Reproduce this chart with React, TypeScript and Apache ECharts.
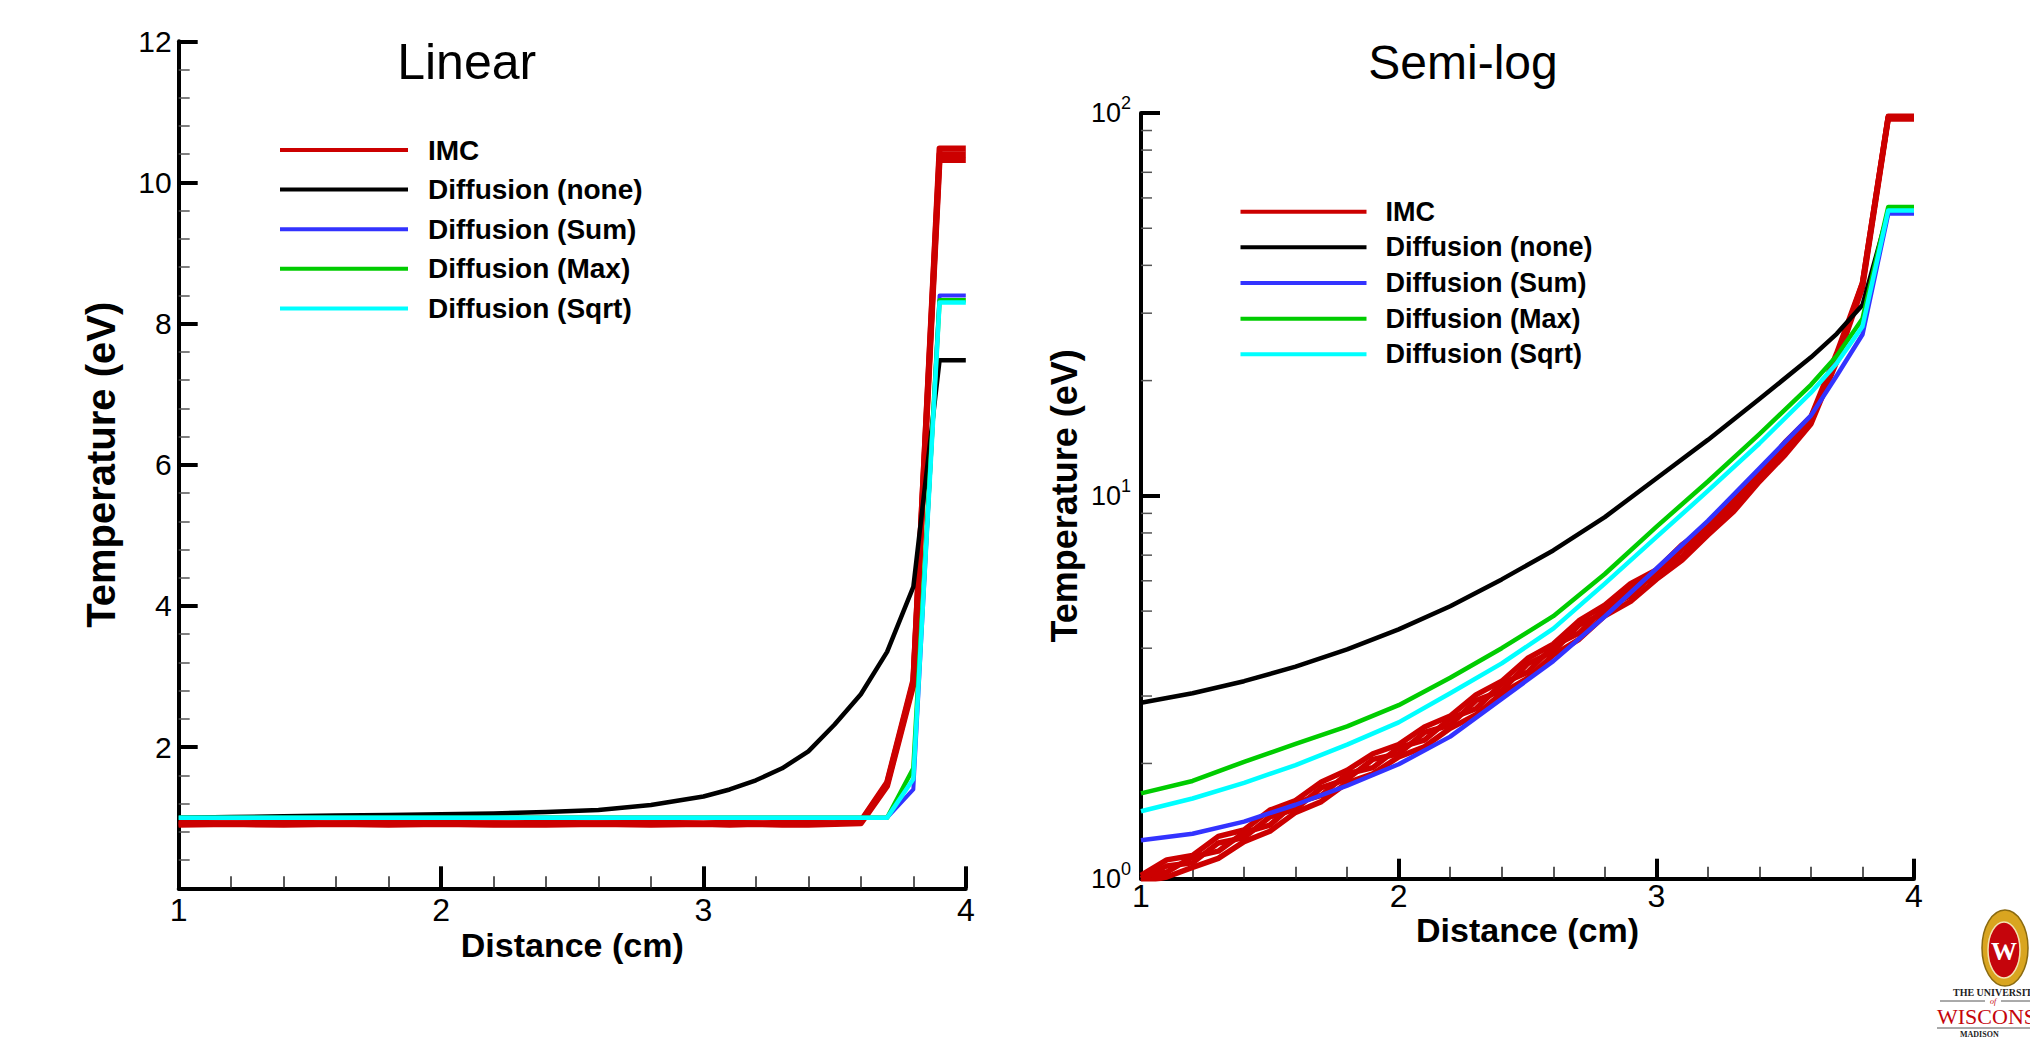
import React, { useEffect, useRef } from 'react';
import * as echarts from 'echarts';

const FONT = "'Liberation Sans', Arial, Helvetica, sans-serif";
const SERIF = "'Liberation Serif', 'DejaVu Serif', serif";

const SERIES_NAMES = ['IMC', 'Diffusion (none)', 'Diffusion (Sum)', 'Diffusion (Max)', 'Diffusion (Sqrt)'];
const COLORS = ['#cc0000', '#000000', '#3333ff', '#00cc00', '#00ffff'];

// ---------- Linear panel ----------
const LIN_X = [1.0, 1.2, 1.4, 1.6, 1.8, 2.0, 2.2, 2.4, 2.6, 2.8, 3.0, 3.1, 3.2, 3.3, 3.4, 3.5, 3.6, 3.7, 3.8, 3.9, 4.0];
const LIN_IMC_A = [0.90, 0.91, 0.90, 0.91, 0.90, 0.91, 0.90, 0.90, 0.91, 0.90, 0.91, 0.90, 0.91, 0.90, 0.90, 0.91, 0.92, 1.45, 2.88, 10.32, 10.32];
const LIN_IMC_B = [0.93, 0.92, 0.93, 0.92, 0.93, 0.93, 0.92, 0.93, 0.92, 0.93, 0.92, 0.93, 0.92, 0.93, 0.93, 0.92, 0.95, 1.50, 2.95, 10.40, 10.40];
const LIN_IMC_C = [0.91, 0.92, 0.91, 0.92, 0.92, 0.91, 0.92, 0.91, 0.92, 0.92, 0.91, 0.92, 0.92, 0.91, 0.92, 0.92, 0.94, 1.48, 2.92, 10.48, 10.48];
const LIN_NONE = [1.00, 1.01, 1.02, 1.03, 1.04, 1.05, 1.06, 1.08, 1.11, 1.18, 1.30, 1.40, 1.53, 1.70, 1.94, 2.32, 2.75, 3.35, 4.27, 7.48, 7.48];
const LIN_SUM = [1.0, 1.0, 1.0, 1.0, 1.0, 1.0, 1.0, 1.0, 1.0, 1.0, 1.0, 1.0, 1.0, 1.0, 1.0, 1.0, 1.0, 1.0, 1.40, 8.40, 8.40];
const LIN_MAX = [1.0, 1.0, 1.0, 1.0, 1.0, 1.0, 1.0, 1.0, 1.0, 1.0, 1.0, 1.0, 1.0, 1.0, 1.0, 1.0, 1.0, 1.0, 1.70, 8.33, 8.33];
const LIN_SQRT = [1.0, 1.0, 1.0, 1.0, 1.0, 1.0, 1.0, 1.0, 1.0, 1.0, 1.0, 1.0, 1.0, 1.0, 1.0, 1.0, 1.0, 1.0, 1.55, 8.30, 8.30];

// ---------- Semi-log panel ----------
const IMC_X = [1.0, 1.1, 1.2, 1.3, 1.4, 1.5, 1.6, 1.7, 1.8, 1.9, 2.0, 2.1, 2.2, 2.3, 2.4, 2.5, 2.6, 2.7, 2.8, 2.9, 3.0, 3.1, 3.2, 3.3, 3.4, 3.5, 3.6, 3.7, 3.8, 3.9, 4.0];
const LOG_IMC_A = [1.02, 1.12, 1.15, 1.29, 1.34, 1.51, 1.60, 1.79, 1.92, 2.12, 2.24, 2.49, 2.66, 3.02, 3.28, 3.76, 4.10, 4.72, 5.18, 5.90, 6.40, 7.45, 8.30, 9.95, 11.5, 13.8, 16.1, 23.6, 36.0, 98.0, 98.0];
const LOG_IMC_B = [0.98, 1.01, 1.07, 1.13, 1.25, 1.33, 1.49, 1.59, 1.78, 1.88, 2.08, 2.21, 2.47, 2.68, 3.05, 3.34, 3.84, 4.22, 4.86, 5.30, 6.05, 6.80, 7.90, 9.10, 10.9, 12.8, 15.4, 22.4, 35.0, 96.4, 96.4];
const LOG_IMC_C = [1.00, 1.08, 1.10, 1.24, 1.28, 1.45, 1.52, 1.73, 1.82, 2.05, 2.12, 2.41, 2.52, 2.92, 3.10, 3.64, 3.92, 4.60, 4.95, 5.75, 6.15, 7.28, 8.00, 9.70, 11.0, 13.5, 15.6, 23.2, 35.5, 97.2, 97.2];
const LOG_IMC_D = [1.01, 1.04, 1.14, 1.18, 1.32, 1.38, 1.58, 1.65, 1.88, 1.95, 2.20, 2.30, 2.62, 2.78, 3.23, 3.46, 4.05, 4.38, 5.10, 5.48, 6.35, 6.95, 8.25, 9.30, 11.4, 13.0, 16.0, 22.8, 36.0, 97.6, 97.6];
const LOG_X = [1.0, 1.2, 1.4, 1.6, 1.8, 2.0, 2.2, 2.4, 2.6, 2.8, 3.0, 3.2, 3.4, 3.6, 3.7, 3.8, 3.9, 4.0];
const LOG_NONE = [2.88, 3.05, 3.28, 3.58, 3.97, 4.48, 5.15, 6.05, 7.2, 8.8, 11.1, 14.0, 17.9, 23.0, 26.5, 31.5, 55.0, 55.0];
const LOG_SUM = [1.26, 1.31, 1.41, 1.56, 1.75, 1.99, 2.35, 2.95, 3.7, 4.84, 6.45, 8.6, 11.8, 16.2, 20.6, 26.4, 54.6, 54.6];
const LOG_MAX = [1.67, 1.80, 2.02, 2.25, 2.50, 2.84, 3.35, 4.0, 4.85, 6.25, 8.3, 10.9, 14.5, 19.5, 23.2, 29.0, 56.8, 56.8];
const LOG_SQRT = [1.50, 1.62, 1.78, 1.98, 2.24, 2.56, 3.05, 3.65, 4.5, 5.9, 7.8, 10.3, 13.7, 18.6, 22.2, 27.7, 55.6, 55.6];
const LOG_MINOR_TICKS = [2, 3, 4, 5, 6, 7, 8, 9, 20, 30, 40, 50, 60, 70, 80, 90];

function line(name: string, xs: number[], ys: number[], color: string, width: number, axis: number) {
  return {
    type: 'line',
    name,
    xAxisIndex: axis,
    yAxisIndex: axis,
    data: xs.map((x, i) => [x, ys[i]]),
    symbol: 'none',
    showSymbol: false,
    silent: true,
    lineStyle: { color, width, join: 'round' },
    itemStyle: { color },
  };
}

function xAxisCfg(gridIndex: number, majorLen: number, minorLen: number, margin: number, nameGap: number) {
  return {
    type: 'value',
    gridIndex,
    min: 1,
    max: 4,
    interval: 1,
    name: 'Distance (cm)',
    nameLocation: 'middle',
    nameGap,
    nameMoveOverlap: false,
    nameTextStyle: { fontFamily: FONT, fontWeight: 'bold', fontSize: 34, color: '#000' },
    axisLine: { show: true, onZero: false, lineStyle: { color: '#000', width: 4 } },
    axisTick: { show: true, inside: true, length: majorLen, lineStyle: { color: '#000', width: 4 } },
    minorTick: { show: true, splitNumber: 5, length: minorLen, lineStyle: { color: '#222', width: 1.5 } },
    axisLabel: { fontFamily: FONT, fontSize: 32, color: '#000', margin },
    splitLine: { show: false },
    minorSplitLine: { show: false },
  };
}

export default function App() {
  const ref = useRef<HTMLDivElement>(null);

  useEffect(() => {
    if (!ref.current) return;
    const chart = echarts.init(ref.current, undefined, { renderer: 'svg' });

    const legendCommon = {
      data: SERIES_NAMES,
      orient: 'vertical',
      icon: 'rect',
      padding: 0,
      selectedMode: false,
      itemStyle: { borderWidth: 0 },
    };

    const option: any = {
      animation: false,
      backgroundColor: '#ffffff',
      grid: [
        { left: 178.7, top: 41.3, width: 787.1, height: 847, outerBoundsMode: 'none' },
        { left: 1141, top: 113, width: 773, height: 765.7, outerBoundsMode: 'none' },
      ],
      xAxis: [xAxisCfg(0, 22, 12, 6, 40), xAxisCfg(1, 20, 12, 1, 34)],
      yAxis: [
        {
          type: 'value',
          gridIndex: 0,
          min: 0,
          max: 12,
          interval: 2,
          name: 'Temperature (eV)',
          nameLocation: 'middle',
          nameGap: 58,
          nameMoveOverlap: false,
          nameTextStyle: { fontFamily: FONT, fontWeight: 'bold', fontSize: 40, color: '#000' },
          axisLine: { show: true, onZero: false, lineStyle: { color: '#000', width: 4 } },
          axisTick: { show: true, inside: true, length: 19, lineStyle: { color: '#000', width: 4 } },
          minorTick: { show: true, splitNumber: 5, length: 11, lineStyle: { color: '#555', width: 1.5 } },
          axisLabel: { fontFamily: FONT, fontSize: 30, color: '#000', margin: 7, showMinLabel: false },
          splitLine: { show: false },
          minorSplitLine: { show: false },
        },
        {
          type: 'log',
          logBase: 10,
          gridIndex: 1,
          min: 1,
          max: 100,
          name: 'Temperature (eV)',
          nameLocation: 'middle',
          nameGap: 59,
          nameMoveOverlap: false,
          nameTextStyle: { fontFamily: FONT, fontWeight: 'bold', fontSize: 36, color: '#000' },
          axisLine: { show: true, onZero: false, lineStyle: { color: '#000', width: 4 } },
          axisTick: { show: true, inside: true, length: 19, lineStyle: { color: '#000', width: 4 } },
          minorTick: { show: false },
          axisLabel: {
            margin: 10,
            formatter: (v: number) => `{b|10}{s|${Math.round(Math.log10(v))}}`,
            rich: {
              b: { fontFamily: FONT, fontSize: 27, lineHeight: 38, color: '#000' },
              s: { fontFamily: FONT, fontSize: 18, verticalAlign: 'top', color: '#000' },
            },
          },
          splitLine: { show: false },
          minorSplitLine: { show: false },
        },
      ],
      legend: [
        {
          ...legendCommon,
          left: 280,
          top: 135,
          itemWidth: 128,
          itemHeight: 4,
          itemGap: 9.6,
          textStyle: { fontFamily: FONT, fontWeight: 'bold', fontSize: 28, lineHeight: 30, color: '#000', padding: [0, 0, 0, 15] },
        },
        {
          ...legendCommon,
          left: 1240.5,
          top: 197.7,
          itemWidth: 126,
          itemHeight: 4,
          itemGap: 7.65,
          textStyle: { fontFamily: FONT, fontWeight: 'bold', fontSize: 27, lineHeight: 28, color: '#000', padding: [0, 0, 0, 14] },
        },
      ],
      series: [
        {
          type: 'custom',
          xAxisIndex: 1,
          yAxisIndex: 1,
          silent: true,
          clip: false,
          data: LOG_MINOR_TICKS.map((v) => [1, v]),
          renderItem: (_p: any, api: any) => {
            const pt = api.coord([api.value(0), api.value(1)]);
            return {
              type: 'line',
              shape: { x1: pt[0], y1: pt[1], x2: pt[0] + 11, y2: pt[1] },
              style: { stroke: '#555', lineWidth: 1.5 },
            };
          },
        },
        line(SERIES_NAMES[0], LIN_X, LIN_IMC_A, COLORS[0], 6, 0),
        line(SERIES_NAMES[0], LIN_X, LIN_IMC_B, COLORS[0], 6, 0),
        line(SERIES_NAMES[0], LIN_X, LIN_IMC_C, COLORS[0], 6, 0),
        line(SERIES_NAMES[1], LIN_X, LIN_NONE, COLORS[1], 4.5, 0),
        line(SERIES_NAMES[2], LIN_X, LIN_SUM, COLORS[2], 4, 0),
        line(SERIES_NAMES[3], LIN_X, LIN_MAX, COLORS[3], 4.5, 0),
        line(SERIES_NAMES[4], LIN_X, LIN_SQRT, COLORS[4], 4.5, 0),
        line(SERIES_NAMES[0], IMC_X, LOG_IMC_A, COLORS[0], 5.5, 1),
        line(SERIES_NAMES[0], IMC_X, LOG_IMC_B, COLORS[0], 5.5, 1),
        line(SERIES_NAMES[0], IMC_X, LOG_IMC_C, COLORS[0], 5.5, 1),
        line(SERIES_NAMES[0], IMC_X, LOG_IMC_D, COLORS[0], 5.5, 1),
        line(SERIES_NAMES[1], LOG_X, LOG_NONE, COLORS[1], 4.5, 1),
        line(SERIES_NAMES[2], LOG_X, LOG_SUM, COLORS[2], 4.5, 1),
        line(SERIES_NAMES[3], LOG_X, LOG_MAX, COLORS[3], 4.5, 1),
        line(SERIES_NAMES[4], LOG_X, LOG_SQRT, COLORS[4], 4.5, 1),
      ],
      graphic: [
        { type: 'text', x: 466.7, y: 62, silent: true, style: { text: 'Linear', font: `50px ${FONT}`, fill: '#000', align: 'center', verticalAlign: 'middle' } },
        { type: 'text', x: 1463, y: 62, silent: true, style: { text: 'Semi-log', font: `48px ${FONT}`, fill: '#000', align: 'center', verticalAlign: 'middle' } },
        {
          type: 'group',
          silent: true,
          children: [
            { type: 'ellipse', shape: { cx: 2005, cy: 948, rx: 23, ry: 38 }, style: { fill: '#d9a520', stroke: '#8a6a10', lineWidth: 1.5 } },
            { type: 'ellipse', shape: { cx: 2004, cy: 950, rx: 16, ry: 28 }, style: { fill: '#c5050c', stroke: '#f3e2b0', lineWidth: 1.5 } },
            { type: 'text', x: 2004, y: 951, style: { text: 'W', font: `bold 26px ${SERIF}`, fill: '#ffffff', align: 'center', verticalAlign: 'middle' } },
            { type: 'text', x: 1953, y: 992, style: { text: 'THE UNIVERSITY', font: `bold 10px ${SERIF}`, fill: '#222', align: 'left', verticalAlign: 'middle' } },
            { type: 'line', shape: { x1: 1940, y1: 1001, x2: 1985, y2: 1001 }, style: { stroke: '#555', lineWidth: 1 } },
            { type: 'text', x: 1993, y: 1001, style: { text: 'of', font: `italic 8px ${SERIF}`, fill: '#c5050c', align: 'center', verticalAlign: 'middle' } },
            { type: 'line', shape: { x1: 2001, y1: 1001, x2: 2030, y2: 1001 }, style: { stroke: '#555', lineWidth: 1 } },
            { type: 'text', x: 1937, y: 1016, style: { text: 'WISCONSIN', font: `22px ${SERIF}`, fill: '#c5050c', align: 'left', verticalAlign: 'middle' } },
            { type: 'line', shape: { x1: 1937, y1: 1028, x2: 2030, y2: 1028 }, style: { stroke: '#555', lineWidth: 1 } },
            { type: 'text', x: 1960, y: 1034, style: { text: 'MADISON', font: `bold 8px ${SERIF}`, fill: '#222', align: 'left', verticalAlign: 'middle' } },
          ],
        },
      ],
    };

    chart.setOption(option);
    return () => chart.dispose();
  }, []);

  return (
    <div
      ref={ref}
      style={{ position: 'absolute', left: 0, top: 0, width: 2030, height: 1037, background: '#fff', overflow: 'hidden' }}
    />
  );
}
